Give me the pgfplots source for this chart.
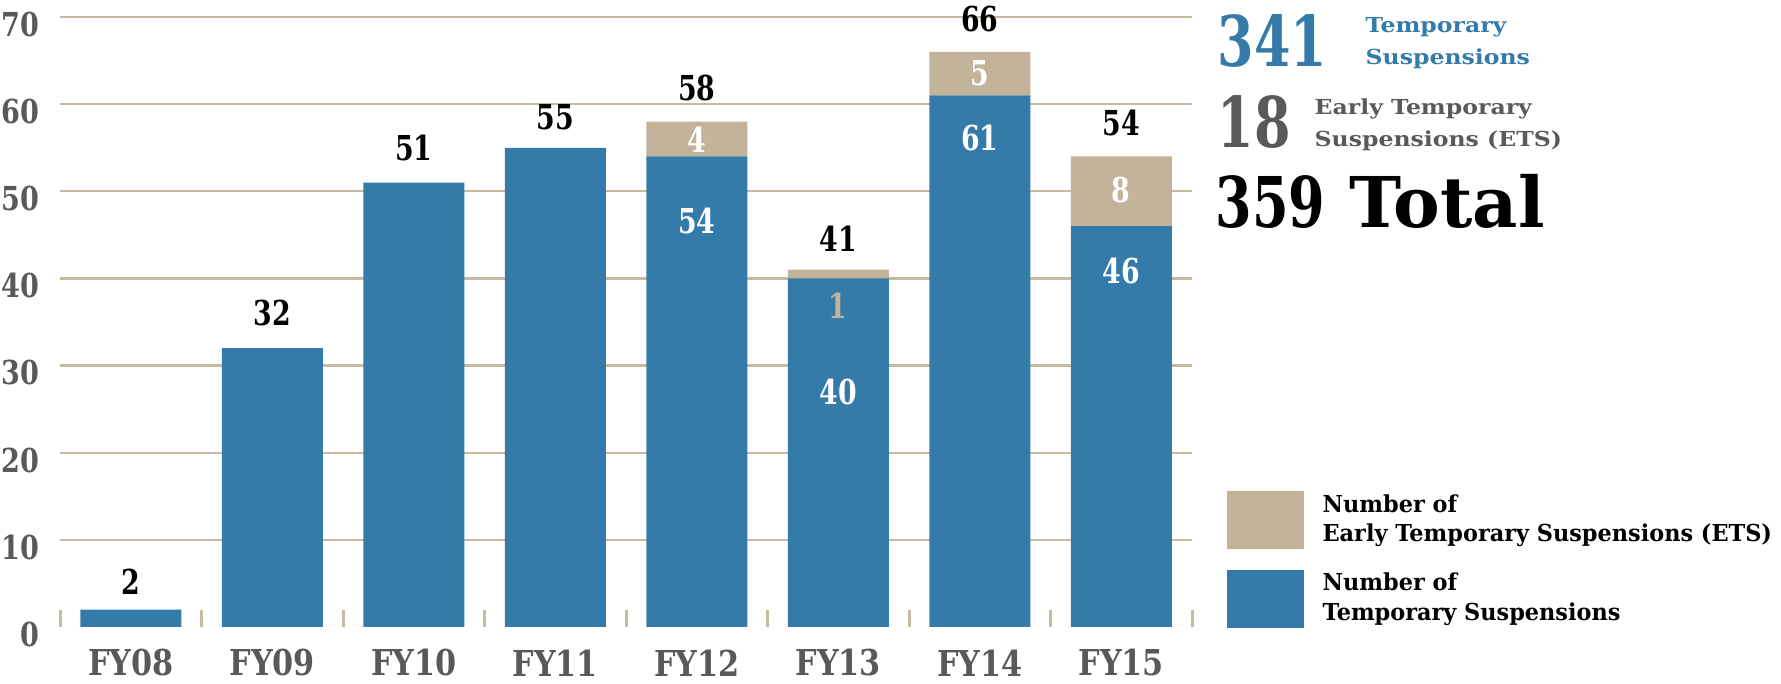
\documentclass[border=0pt]{standalone}
\usepackage{pgfplots}
\pgfplotsset{compat=1.18}
\usepackage{fontspec}
\setmainfont{DejaVu Serif}
\newfontfamily\numfont{DejaVu Serif}[FakeStretch=0.78]
\newfontfamily\tickfont{DejaVu Serif}[FakeStretch=0.82]
\newfontfamily\xfont{DejaVu Serif}[FakeStretch=0.85]
\newfontfamily\bigfont{DejaVu Serif}[FakeStretch=0.75]
\newfontfamily\widefont{DejaVu Serif}[FakeStretch=1.14]
\newfontfamily\legfont{DejaVu Serif}[FakeStretch=0.96]
\definecolor{tsblue}{RGB}{52,123,170}
\definecolor{etstan}{RGB}{194,179,154}
\definecolor{gridtan}{RGB}{198,186,163}
\definecolor{txtgray}{RGB}{88,89,91}
\pgfplotstableread{
x ts ets
0 2 0
1 32 0
2 51 0
3 55 0
4 54 4
5 40 1
6 61 5
7 46 8
}\datatable
\begin{document}
\begin{tikzpicture}
\useasboundingbox (-18pt,-17.1pt) rectangle (516.3pt,188.1pt);
\tikzset{lbl/.style={font=\numfont\bfseries\fontsize{10.3}{12}\selectfont, inner sep=0pt, anchor=center}}
\begin{axis}[
  at={(0,0)}, anchor=south west,
  x=42.45pt, y=2.614pt,
  xmin=-0.5, xmax=7.5, ymin=0, ymax=70,
  ybar stacked, bar width=30.3pt,
  axis line style={draw=none},
  clip=false,
  /pgf/number format/assume math mode=true,
  ytick={10,20,...,70},
  extra y ticks={0}, extra y tick style={grid=none},
  ymajorgrids, grid style={color=gridtan, line width=0.7pt},
  xtick={0,...,7},
  xticklabels={FY08,FY09,FY10,FY11,FY12,FY13,FY14,FY15},
  major tick length=0pt,
  extra x ticks={-0.5,0.5,...,7.5},
  extra x tick labels={},
  extra x tick style={major tick length=5pt, tick align=inside, major tick style={color=gridtan, line width=0.9pt}},
  xtick pos=lower, ytick pos=left,
  yticklabel style={font=\tickfont\bfseries\fontsize{9.9}{10}\selectfont, text=txtgray, yshift=-2.2pt, xshift=-2.7pt},
  xticklabel style={font=\xfont\bfseries\fontsize{10.7}{11}\selectfont, text=txtgray, anchor=center, yshift=-10.8pt},
  reverse legend,
  legend image code/.code={\fill[#1,draw=none] (0pt,-8.7pt) rectangle (23.1pt,8.7pt);},
  legend style={at={(axis description cs:1.030,0.2295)}, anchor=north west, draw=none, fill=none, inner sep=0pt,
    row sep=4pt, column sep=3.7pt,
    font=\legfont\bfseries\fontsize{7}{8.8}\selectfont,
    cells={align=left, anchor=west}},
]
\addplot[fill=tsblue, draw=none] table[x=x, y=ts] {\datatable};
\addlegendentry{Number of\\Temporary Suspensions}
\addplot[fill=etstan, draw=none] table[x=x, y=ets] {\datatable};
\addlegendentry{Number of\\Early Temporary Suspensions (ETS)}
% totals
\node[lbl] at (axis cs:0,5.2) {2};
\node[lbl] at (axis cs:1,36.0) {32};
\node[lbl] at (axis cs:2,55.0) {51};
\node[lbl] at (axis cs:3,58.5) {55};
\node[lbl] at (axis cs:4,61.9) {58};
\node[lbl] at (axis cs:5,44.5) {41};
\node[lbl] at (axis cs:6,69.8) {66};
\node[lbl] at (axis cs:7,57.8) {54};
% label anchors inside bars
\coordinate (t4) at (axis cs:4,46.6);
\coordinate (t5) at (axis cs:5,27.0);
\coordinate (t6) at (axis cs:6,56.1);
\coordinate (t7) at (axis cs:7,40.9);
\coordinate (e4) at (axis cs:4,55.9);
\coordinate (e5) at (axis cs:5,36.9);
\coordinate (e6) at (axis cs:6,63.5);
\coordinate (e7) at (axis cs:7,50.1);
\end{axis}
\node[lbl,text=white] at (t4) {54};
\node[lbl,text=white] at (t5) {40};
\node[lbl,text=white] at (t6) {61};
\node[lbl,text=white] at (t7) {46};
\node[lbl,text=white] at (e4) {4};
\node[lbl,text=etstan] at (e5) {1};
\node[lbl,text=white] at (e6) {5};
\node[lbl,text=white] at (e7) {8};
% summary text
\node[anchor=base west, inner sep=0pt, text=tsblue, font=\bigfont\bfseries\fontsize{21}{22}\selectfont] at (347.1pt,168pt) {341};
\node[anchor=base west, inner sep=0pt, text=tsblue, font=\widefont\bfseries\fontsize{6.2}{7}\selectfont] at (391.5pt,178.2pt) {Temporary};
\node[anchor=base west, inner sep=0pt, text=tsblue, font=\widefont\bfseries\fontsize{6.2}{7}\selectfont] at (391.5pt,168.6pt) {Suspensions};
\node[anchor=base west, inner sep=0pt, text=txtgray, font=\bigfont\bfseries\fontsize{21}{22}\selectfont] at (347.1pt,143.7pt) {18};
\node[anchor=base west, inner sep=0pt, text=txtgray, font=\widefont\bfseries\fontsize{6.2}{7}\selectfont] at (376.2pt,153.6pt) {Early Temporary};
\node[anchor=base west, inner sep=0pt, text=txtgray, font=\widefont\bfseries\fontsize{6.2}{7}\selectfont] at (376.2pt,144pt) {Suspensions (ETS)};
\node[anchor=base west, inner sep=0pt, text=black, font=\bfseries\fontsize{21}{22}\selectfont] at (346.5pt,119.7pt) {{\bigfont 359} Total};
\end{tikzpicture}
\end{document}
